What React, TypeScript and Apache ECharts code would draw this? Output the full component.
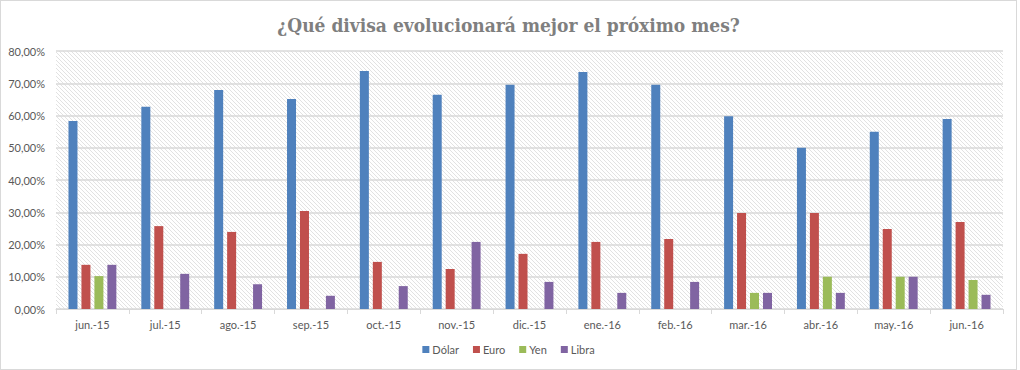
import React, { useEffect, useRef } from "react";
import * as echarts from "echarts";

const categories = ["jun.-15", "jul.-15", "ago.-15", "sep.-15", "oct.-15", "nov.-15", "dic.-15", "ene.-16", "feb.-16", "mar.-16", "abr.-16", "may.-16", "jun.-16"];
const dolar = [58.3, 62.7, 67.9, 65.1, 73.8, 66.4, 69.5, 73.5, 69.5, 59.8, 50.0, 55.0, 58.9];
const euro = [13.7, 25.7, 23.9, 30.4, 14.6, 12.4, 17.1, 20.8, 21.7, 29.8, 29.8, 24.8, 27.0];
const yen = [10.2, null, null, null, null, null, null, null, null, 5.0, 10.0, 10.0, 9.0];
const libra = [13.7, 10.9, 7.7, 4.1, 7.1, 20.8, 8.4, 5.0, 8.4, 5.0, 5.0, 10.0, 4.4];
const seriesNames = ["Dólar", "Euro", "Yen", "Libra"];
const colors = ["#4f81bd", "#c0504d", "#9bbb59", "#8064a2"];

const hatchSvg =
  "data:image/svg+xml;utf8," +
  encodeURIComponent(
    '<svg xmlns="http://www.w3.org/2000/svg" width="4" height="4"><rect width="4" height="4" fill="#ffffff"/><path d="M-1,-1 L5,5 M3,-1 L5,1 M-1,3 L1,5" stroke="#d6d6d6" stroke-width="0.7"/></svg>'
  );

export default function App() {
  const ref = useRef<HTMLDivElement>(null);
  useEffect(() => {
    document.body.style.margin = "0";
    const chart = echarts.init(ref.current!, null, { renderer: "svg" });
    const font = "Lato, 'Open Sans', sans-serif";
    const data = [dolar, euro, yen, libra];
    chart.setOption({
      animation: false,
      backgroundColor: "#ffffff",
      title: {
        text: "¿Qué divisa evolucionará mejor el próximo mes?",
        left: "center",
        top: 9,
        textStyle: {
          fontFamily: "'DejaVu Serif Condensed', 'DejaVu Serif', serif",
          fontSize: 19,
          fontWeight: "bold",
          color: "#7f7f7f",
        },
      },
      legend: {
        bottom: 9,
        left: "center",
        itemWidth: 7,
        itemHeight: 7,
        itemGap: 14,
        icon: "rect",
        data: seriesNames,
        textStyle: { fontFamily: font, fontSize: 11, color: "#595959", padding: [0, 0, 0, -2] },
      },
      grid: {
        left: 55,
        right: 13,
        top: 50,
        bottom: 60,
        show: true,
        borderWidth: 0,
        backgroundColor: { image: hatchSvg, repeat: "repeat", imageWidth: 4, imageHeight: 4 },
      },
      xAxis: {
        type: "category",
        data: categories,
        axisLine: { lineStyle: { color: "#d9d9d9", width: 1 } },
        axisTick: { show: true, length: 5, lineStyle: { color: "#d9d9d9" } },
        axisLabel: { fontFamily: font, fontSize: 11, color: "#595959", margin: 10 },
      },
      yAxis: {
        type: "value",
        min: 0,
        max: 80,
        interval: 10,
        axisLine: { show: false },
        axisTick: { show: false },
        splitLine: { lineStyle: { color: "#d9d9d9", width: 1.5 } },
        axisLabel: {
          fontFamily: font,
          fontSize: 11,
          color: "#595959",
          margin: 11,
          formatter: (v: number) => v.toFixed(2).replace(".", ",") + "%",
        },
      },
      series: seriesNames.map((name, i) => ({
        name,
        type: "bar",
        data: data[i],
        barWidth: 9,
        barGap: "44%",
        itemStyle: { color: colors[i] },
      })),
    });
    return () => chart.dispose();
  }, []);
  return (
    <div
      style={{
        position: "fixed",
        left: 0,
        top: 0,
        width: 1017,
        height: 370,
        boxSizing: "border-box",
        border: "1px solid #d9d9d9",
        background: "#fff",
      }}
    >
      <div ref={ref} style={{ width: 1015, height: 368 }} />
    </div>
  );
}
